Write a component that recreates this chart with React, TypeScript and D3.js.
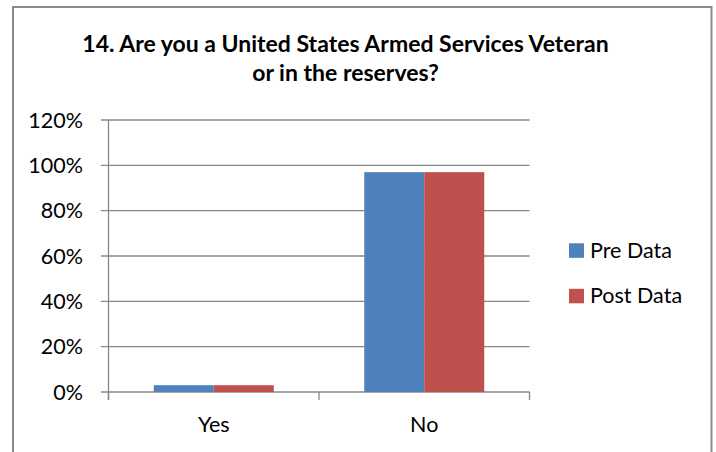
import React from "react";
import * as d3 from "d3";

const categories = ["Yes", "No"];
const seriesNames = ["Pre Data", "Post Data"];
const preData = [0.03, 0.97];
const postData = [0.03, 0.97];
const yTicks = [0, 0.2, 0.4, 0.6, 0.8, 1.0, 1.2];
const titleLines = ["14. Are you a United States Armed Services Veteran", "or in the reserves?"];
const colors = ["#4F81BD", "#C0504D"];

const W = 716;
const H = 452;
const FONT = "Lato, 'Open Sans', sans-serif";

export default function App() {
  const plotLeft = 108.5;
  const plotRight = 529.5;
  const plotTop = 120;
  const plotBottom = 392;

  const y = d3.scaleLinear().domain([0, 1.2]).range([plotBottom, plotTop]);
  const x0 = d3.scaleBand<string>().domain(categories).range([plotLeft, plotRight]).paddingInner(0).paddingOuter(0);
  const x1 = d3
    .scaleBand<string>()
    .domain(seriesNames)
    .range([0, x0.bandwidth()])
    .paddingInner(0)
    .paddingOuter(0.754);
  const fmt = d3.format(".0%");
  const series = [preData, postData];
  const gridColor = "#878787";

  const catTicks = [plotLeft, ...categories.map((c) => (x0(c) as number) + x0.bandwidth())];

  return (
    <svg width={W} height={H} style={{ position: "absolute", left: 0, top: 0, background: "#fff" }}>
      <rect x={0} y={0} width={W} height={H} fill="#fff" />
      <rect x={13} y={7} width={698.5} height={470} fill="#fff" stroke="#8a8a8a" strokeWidth={2} />

      {titleLines.map((t, i) => (
        <text
          key={i}
          x={345.5}
          y={51.5 + i * 29.5}
          textAnchor="middle"
          fontFamily={FONT}
          fontWeight="bold"
          fontSize={23}
          fill="#000"
        >
          {t}
        </text>
      ))}

      {yTicks.map((t) => (
        <g key={t}>
          <line x1={plotLeft - 7.5} x2={plotRight} y1={y(t)} y2={y(t)} stroke={gridColor} strokeWidth={1.3} />
          <text
            x={83}
            y={y(t)}
            dy="0.36em"
            textAnchor="end"
            fontFamily={FONT}
            fontSize={21.5}
            fill="#000"
          >
            {fmt(t)}
          </text>
        </g>
      ))}

      <line x1={plotLeft} x2={plotLeft} y1={plotTop} y2={plotBottom + 8} stroke={gridColor} strokeWidth={1.3} />
      {catTicks.map((cx, i) => (
        <line key={i} x1={cx} x2={cx} y1={plotBottom} y2={plotBottom + 8} stroke={gridColor} strokeWidth={1.3} />
      ))}

      {categories.map((c, ci) => (
        <g key={c} transform={`translate(${x0(c)},0)`}>
          {series.map((s, si) => (
            <rect
              key={si}
              x={x1(seriesNames[si])}
              y={y(s[ci])}
              width={x1.bandwidth()}
              height={plotBottom - y(s[ci])}
              fill={colors[si]}
            />
          ))}
          <text
            x={x0.bandwidth() / 2}
            y={431.5}
            textAnchor="middle"
            fontFamily={FONT}
            fontSize={21.5}
            fill="#000"
          >
            {c}
          </text>
        </g>
      ))}

      {seriesNames.map((n, i) => (
        <g key={n} transform={`translate(569,${243.3 + i * 45.5})`}>
          <rect x={0} y={0} width={15} height={14.5} fill={colors[i]} />
          <text x={21} y={14.4} fontFamily={FONT} fontSize={21.5} fill="#000">
            {n}
          </text>
        </g>
      ))}
    </svg>
  );
}
